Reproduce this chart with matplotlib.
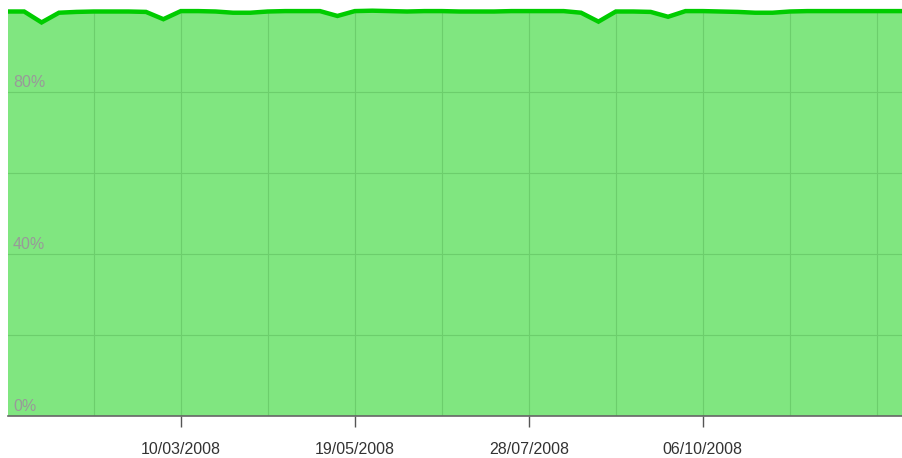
import numpy as np
import pandas as pd
import matplotlib.pyplot as plt
import matplotlib.dates as mdates

# Weekly values (percent), starting Monday 31/12/2007
start_week = '2007-12-31'
pct = [99.9, 99.9, 97.2, 99.6, 99.8, 99.9, 99.9, 99.9, 99.8, 98.0,
       100.0, 100.0, 99.9, 99.6, 99.6, 99.9, 100.0, 100.0, 100.0, 98.8,
       100.0, 100.1, 100.0, 99.9, 100.0, 100.0, 99.9, 99.9, 99.9, 100.0,
       100.0, 100.0, 100.0, 99.6, 97.4, 99.9, 99.9, 99.8, 98.6, 100.0,
       100.0, 99.9, 99.8, 99.6, 99.6, 99.9, 100.0, 100.0, 100.0, 100.0,
       100.0, 100.0, 100.0]
weeks = pd.date_range(start_week, periods=len(pct), freq='7D')

label_dates = ['2008-03-10', '2008-05-19', '2008-07-28', '2008-10-06']
grid_dates = pd.date_range('2008-02-04', '2008-12-22', freq='35D')
y_labels = [0, 40, 80]

fig = plt.figure(figsize=(9.03, 4.58), dpi=100)
ax = fig.add_axes([8 / 903, 42 / 458, 895 / 903, 413 / 458])

# Area + line
area = ax.fill_between(weeks, 0, pct, color='#80e680', zorder=1, linewidth=0)
ax.plot(weeks, pct, color='#00cc00', lw=3.2, zorder=3, solid_joinstyle='miter')

# Grid, only visible inside the green area
clip = area.get_paths()[0]
for d in grid_dates:
    gl = ax.axvline(d, color='#6cce6c', lw=0.8, zorder=2)
    gl.set_clip_path(clip, area.get_transform())
for v in range(0, 101, 20):
    gl = ax.axhline(v, color='#6cce6c', lw=0.8, zorder=2)
    gl.set_clip_path(clip, area.get_transform())

ax.set_xlim(pd.Timestamp('2007-12-31 12:00'), pd.Timestamp('2008-12-25 12:00'))
ax.set_ylim(0, 102)

# x ticks
ax.set_xticks([mdates.date2num(pd.Timestamp(d)) for d in label_dates])
ax.set_xticklabels([pd.Timestamp(d).strftime('%d/%m/%Y') for d in label_dates],
                   fontsize=11.5, color='#333333', family='Liberation Sans')
ax.tick_params(axis='x', length=8, width=1, color='#555555', pad=11)
ax.set_yticks([])

for v in y_labels:
    ax.text(pd.Timestamp('2008-01-02 12:00'), v + 0.5, '%d%%' % v, fontsize=11.5,
            color='#999999', family='Liberation Sans', va='bottom', ha='left', zorder=4)

for s in ['top', 'right', 'left']:
    ax.spines[s].set_visible(False)
ax.spines['bottom'].set_color('#666666')
ax.spines['bottom'].set_linewidth(1.2)
ax.spines['bottom'].set_zorder(5)

plt.savefig('out.png', dpi=100)
